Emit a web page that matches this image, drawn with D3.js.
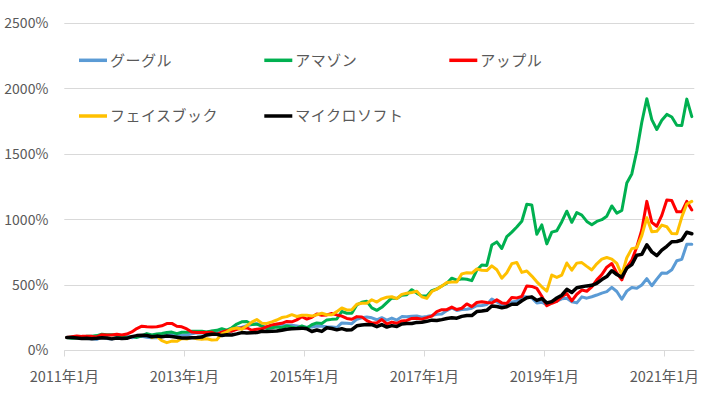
<!DOCTYPE html>
<html><head><meta charset="utf-8">
<script src="https://cdn.jsdelivr.net/npm/d3@7/dist/d3.min.js"></script>
<style>
html,body{margin:0;padding:0;background:#fff;}
svg{display:block;font-family:"Noto Sans CJK JP","Noto Sans",sans-serif;}
</style></head><body>
<svg id="chart" width="706" height="399"></svg>
<script>
// ---- data ----
const months = d3.timeMonth.range(new Date(2011, 0, 1), new Date(2021, 6, 1)); // 2011-01 .. 2021-06
const tickMonths = ["2011-01", "2013-01", "2015-01", "2017-01", "2019-01", "2021-01"];
const tickLabels = ["2011年1月", "2013年1月", "2015年1月", "2017年1月", "2019年1月", "2021年1月"];
const yTicks = [0, 500, 1000, 1500, 2000, 2500];
const seriesNames = ["グーグル", "アマゾン", "アップル", "フェイスブック", "マイクロソフト"];
const seriesColors = ["#5B9BD5", "#00B050", "#FF0000", "#FFC000", "#000000"];
const seriesWidths = [3, 3, 3, 3, 3.5];

const google = [100,
  101, 103, 99, 92, 89, 85, 102, 91, 87, 100, 101, 109,
  98, 104, 108, 102, 98, 98, 107, 115, 127, 115, 118, 119,
  127, 135, 134, 139, 147, 148, 150, 143, 148, 174, 178, 189,
  199, 205, 188, 177, 189, 194, 193, 193, 194, 188, 182, 177,
  180, 188, 185, 181, 179, 175, 211, 208, 205, 239, 250, 256,
  250, 235, 251, 233, 248, 233, 259, 258, 262, 264, 255, 260,
  268, 277, 279, 305, 325, 306, 313, 316, 323, 342, 344, 352,
  394, 372, 347, 343, 370, 376, 410, 410, 402, 363, 369, 349,
  376, 377, 395, 400, 372, 364, 410, 400, 411, 424, 439, 450,
  483, 451, 392, 454, 481, 476, 501, 550, 495, 546, 593, 590,
  618, 686, 697, 812, 812];

const amazon = [100,
  94, 96, 100, 109, 109, 114, 124, 120, 120, 119, 107, 96,
  108, 100, 113, 129, 118, 127, 130, 138, 141, 129, 140, 139,
  148, 147, 148, 141, 150, 154, 167, 156, 174, 202, 219, 222,
  199, 201, 187, 169, 174, 180, 174, 188, 179, 170, 188, 172,
  197, 211, 207, 234, 238, 241, 298, 285, 284, 348, 369, 376,
  326, 307, 330, 366, 402, 398, 422, 427, 465, 439, 417, 417,
  458, 470, 493, 514, 553, 538, 549, 545, 534, 614, 654, 650,
  806, 830, 780, 870, 905, 944, 988, 1118, 1113, 888, 960, 815,
  905, 915, 985, 1065, 980, 1055, 1035, 987, 962, 987, 1000, 1027,
  1105, 1050, 1070, 1280, 1350, 1525, 1745, 1925, 1765, 1690, 1760, 1805,
  1785, 1722, 1720, 1922, 1788];

const apple = [100,
  105, 110, 108, 109, 108, 104, 121, 119, 118, 125, 118, 126,
  142, 168, 186, 181, 179, 181, 189, 206, 207, 185, 181, 165,
  141, 137, 137, 137, 139, 123, 140, 151, 148, 162, 172, 174,
  155, 163, 166, 183, 196, 202, 208, 222, 219, 234, 258, 240,
  254, 279, 270, 272, 283, 272, 263, 245, 239, 259, 257, 228,
  211, 210, 237, 203, 217, 208, 226, 230, 245, 246, 240, 251,
  263, 297, 312, 312, 332, 313, 323, 356, 335, 367, 373, 367,
  363, 387, 364, 359, 406, 402, 413, 494, 490, 475, 415, 342,
  361, 376, 412, 436, 380, 430, 462, 453, 486, 540, 580, 637,
  665, 593, 540, 638, 690, 792, 922, 1140, 980, 950, 1033, 1150,
  1146, 1060, 1060, 1140, 1075];

const facebook = [null, null, null, null, null, null, null, null, null, null, null, null,
  null, null, null, null, null,
  100, 108, 75, 60, 72, 70, 92, 88,
  100, 90, 85, 90, 80, 82, 127, 143, 165, 172, 163, 189,
  217, 237, 209, 207, 219, 233, 252, 259, 274, 260, 269, 270,
  263, 273, 285, 273, 274, 297, 325, 310, 311, 353, 361, 362,
  388, 370, 395, 407, 411, 396, 429, 437, 444, 453, 410, 398,
  451, 469, 492, 520, 524, 523, 586, 595, 592, 623, 613, 611,
  647, 617, 553, 595, 664, 673, 597, 608, 569, 525, 487, 454,
  577, 559, 577, 669, 614, 668, 672, 643, 616, 663, 698, 711,
  699, 666, 577, 709, 779, 786, 878, 1015, 907, 911, 959, 946,
  894, 892, 1020, 1120, 1140];

const microsoft = [100,
  99, 95, 91, 93, 90, 93, 98, 95, 89, 95, 92, 93,
  106, 114, 116, 115, 105, 110, 106, 110, 107, 102, 95, 96,
  98, 100, 103, 119, 125, 124, 114, 120, 119, 127, 137, 134,
  136, 137, 147, 145, 147, 149, 155, 163, 166, 168, 171, 166,
  145, 157, 146, 174, 168, 158, 167, 156, 159, 189, 195, 199,
  197, 182, 198, 179, 190, 183, 203, 206, 206, 215, 216, 223,
  232, 229, 236, 245, 250, 247, 261, 268, 267, 298, 302, 307,
  340, 336, 327, 335, 354, 353, 380, 403, 410, 383, 397, 364,
  374, 401, 423, 468, 443, 480, 488, 494, 498, 514, 542, 565,
  610, 581, 560, 630, 657, 729, 735, 808, 754, 725, 767, 797,
  831, 833, 845, 904, 893];

const seriesValues = [google, amazon, apple, facebook, microsoft];

// ---- layout ----
const svg = d3.select("#chart");
const fmt = d3.timeFormat("%Y-%m");
const monthKeys = months.map(fmt);
const plotLeft = 64.3, plotRight = 694.3, plotTop = 23.5, plotBottom = 350.5;
const x = d3.scaleBand().domain(monthKeys).range([plotLeft, plotRight]).paddingInner(0).paddingOuter(0);
const xc = k => x(k) + x.bandwidth() / 2;
const y = d3.scaleLinear().domain([0, 2500]).range([plotBottom, plotTop]);
const crisp = v => Math.round(v) + 0.5;

// gridlines
svg.append("g").selectAll("line").data(yTicks).join("line")
  .attr("x1", plotLeft).attr("x2", plotRight)
  .attr("y1", d => crisp(y(d) - 0.5)).attr("y2", d => crisp(y(d) - 0.5))
  .attr("stroke", "#d9d9d9").attr("stroke-width", 1);

// y axis labels
const yAxis = d3.axisLeft(y).tickValues(yTicks).tickFormat(d => d + "%").tickSize(0).tickPadding(16);
const gy = svg.append("g").attr("transform", `translate(${plotLeft},0)`).call(yAxis);
gy.select(".domain").remove();
gy.selectAll("text").attr("fill", "#595959").style("font-size", "14px")
  .style("font-family", '"Noto Sans CJK JP","Noto Sans",sans-serif');

// x ticks + labels
const gx = svg.append("g");
gx.selectAll("line").data(tickMonths).join("line")
  .attr("x1", d => crisp(x(d) - 0.5)).attr("x2", d => crisp(x(d) - 0.5))
  .attr("y1", plotBottom).attr("y2", plotBottom + 6)
  .attr("stroke", "#d9d9d9").attr("stroke-width", 1);
gx.selectAll("text").data(tickMonths).join("text")
  .attr("x", d => x(d)).attr("y", 381.5)
  .attr("text-anchor", "middle").attr("fill", "#595959")
  .style("font-size", "14.5px")
  .text((d, i) => tickLabels[i]);

// series lines
const line = d3.line()
  .defined(d => d.v != null)
  .x(d => xc(d.k)).y(d => y(d.v));
svg.append("g").selectAll("path").data(seriesValues).join("path")
  .attr("d", vals => line(vals.map((v, i) => ({k: monthKeys[i], v}))))
  .attr("fill", "none")
  .attr("stroke", (d, i) => seriesColors[i])
  .attr("stroke-width", (d, i) => seriesWidths[i])
  .attr("stroke-linejoin", "round")
  .attr("stroke-linecap", "round");

// legend
const legCols = [79, 264.3, 449.3];
const legRows = [60.3, 116];
const leg = svg.append("g").selectAll("g").data(seriesNames).join("g")
  .attr("transform", (d, i) => `translate(${legCols[i % 3]},${legRows[Math.floor(i / 3)]})`);
leg.append("line").attr("x1", 0).attr("x2", 28).attr("y1", 0).attr("y2", 0)
  .attr("stroke", (d, i) => seriesColors[i]).attr("stroke-width", 3.5);
leg.append("text").attr("x", 31).attr("y", 0).attr("dy", "0.36em")
  .attr("fill", "#595959").style("font-size", "15px").style("letter-spacing", "0.5px")
  .text(d => d);
</script>
</body></html>
